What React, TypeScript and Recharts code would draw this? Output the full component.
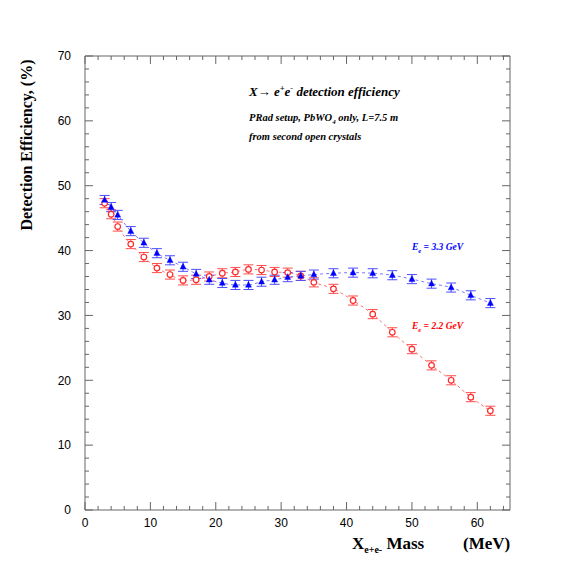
import React from 'react';
import { ComposedChart, Line, XAxis, YAxis, ErrorBar, ReferenceLine } from 'recharts';

const masses = [3, 4, 5, 7, 9, 11, 13, 15, 17, 19, 21, 23, 25, 27, 29, 31, 33, 35, 38, 41, 44, 47, 50, 53, 56, 59, 62];
const eff33 = [47.8, 46.7, 45.5, 43.0, 41.2, 39.6, 38.5, 37.5, 36.4, 35.5, 35.0, 34.7, 34.7, 35.2, 35.5, 35.9, 36.1, 36.3, 36.5, 36.6, 36.5, 36.2, 35.6, 34.9, 34.3, 33.1, 31.9];
const err33 = [0.7, 0.7, 0.7, 0.7, 0.7, 0.7, 0.7, 0.7, 0.7, 0.7, 0.7, 0.7, 0.7, 0.7, 0.7, 0.7, 0.7, 0.7, 0.7, 0.7, 0.7, 0.7, 0.7, 0.7, 0.7, 0.7, 0.7];
const eff22 = [47.3, 45.6, 43.7, 41.0, 39.0, 37.3, 36.3, 35.4, 35.5, 36.0, 36.5, 36.7, 37.1, 37.0, 36.7, 36.6, 36.1, 35.1, 34.1, 32.3, 30.2, 27.4, 24.8, 22.3, 20.0, 17.4, 15.3];
const err22 = [0.7, 0.7, 0.7, 0.7, 0.7, 0.7, 0.7, 0.7, 0.7, 0.7, 0.7, 0.7, 0.7, 0.7, 0.7, 0.7, 0.7, 0.7, 0.7, 0.7, 0.7, 0.7, 0.7, 0.7, 0.7, 0.7, 0.7];

const X_MIN = 0;
const X_MAX = 65;
const Y_MIN = 0;
const Y_MAX = 70;
const xMajorTicks = [0, 10, 20, 30, 40, 50, 60];
const xMinorTicks = [2, 4, 6, 8, 12, 14, 16, 18, 22, 24, 26, 28, 32, 34, 36, 38, 42, 44, 46, 48, 52, 54, 56, 58, 62, 64];
const yMajorTicks = [0, 10, 20, 30, 40, 50, 60, 70];
const yMinorTicks = [2, 4, 6, 8, 12, 14, 16, 18, 22, 24, 26, 28, 32, 34, 36, 38, 42, 44, 46, 48, 52, 54, 56, 58, 62, 64, 66, 68];

// tick lengths expressed in data units (major ~8px, minor ~4px)
const X_TICK_MAJ = 1.22;
const X_TICK_MIN = 0.61;
const Y_TICK_MAJ = 1.23;
const Y_TICK_MIN = 0.62;

const data = masses.map((m, i) => ({
  m,
  blue: eff33[i],
  blueErr: err33[i],
  red: eff22[i],
  redErr: err22[i],
}));

const FRAME = '#666666';
const SERIF = '"Liberation Serif", "DejaVu Serif", serif';
const SANS = '"Liberation Sans", Arial, sans-serif';

const Triangle = (props: any) => {
  const { cx, cy, index } = props;
  if (cx == null || cy == null) return <g key={`bt-${index}`} />;
  return (
    <path
      key={`bt-${index}`}
      d={`M${cx},${cy - 3.5} L${cx + 3},${cy + 2.3} L${cx - 3},${cy + 2.3} Z`}
      fill="#0000ff"
      stroke="#0000ff"
      strokeWidth={0.4}
    />
  );
};

const OpenCircle = (props: any) => {
  const { cx, cy, index } = props;
  if (cx == null || cy == null) return <g key={`rc-${index}`} />;
  return <circle key={`rc-${index}`} cx={cx} cy={cy} r={2.8} fill="#ffffff" stroke="#ff2a2a" strokeWidth={1.2} />;
};

const tickLines = () => {
  const out: React.ReactNode[] = [];
  const add = (key: string, seg: { x: number; y: number }[]) =>
    out.push(
      <ReferenceLine key={key} xAxisId="x" yAxisId="y" segment={seg} stroke={FRAME} strokeWidth={1} ifOverflow="visible" />
    );
  xMajorTicks.forEach((t) => {
    add(`xb${t}`, [{ x: t, y: Y_MIN }, { x: t, y: Y_MIN + Y_TICK_MAJ }]);
    add(`xt${t}`, [{ x: t, y: Y_MAX }, { x: t, y: Y_MAX - Y_TICK_MAJ }]);
  });
  xMinorTicks.forEach((t) => {
    add(`xbm${t}`, [{ x: t, y: Y_MIN }, { x: t, y: Y_MIN + Y_TICK_MIN }]);
    add(`xtm${t}`, [{ x: t, y: Y_MAX }, { x: t, y: Y_MAX - Y_TICK_MIN }]);
  });
  yMajorTicks.forEach((t) => {
    add(`yl${t}`, [{ x: X_MIN, y: t }, { x: X_MIN + X_TICK_MAJ, y: t }]);
    add(`yr${t}`, [{ x: X_MAX, y: t }, { x: X_MAX - X_TICK_MAJ, y: t }]);
  });
  yMinorTicks.forEach((t) => {
    add(`ylm${t}`, [{ x: X_MIN, y: t }, { x: X_MIN + X_TICK_MIN, y: t }]);
    add(`yrm${t}`, [{ x: X_MAX, y: t }, { x: X_MAX - X_TICK_MIN, y: t }]);
  });
  return out;
};

export default function App() {
  return (
    <div style={{ position: 'absolute', left: 0, top: 0, width: 567, height: 567, background: '#ffffff' }}>
      <ComposedChart
        width={567}
        height={567}
        data={data}
        margin={{ top: 56, right: 57, bottom: 27, left: 25 }}
      >
        <XAxis
          xAxisId="x"
          dataKey="m"
          type="number"
          domain={[X_MIN, X_MAX]}
          allowDataOverflow
          ticks={xMajorTicks}
          tickLine={false}
          tickSize={6}
          tickMargin={2}
          height={30}
          axisLine={{ stroke: FRAME, strokeWidth: 1 }}
          tick={{ fill: '#000', fontSize: 12, fontFamily: SANS }}
        />
        <YAxis
          yAxisId="y"
          type="number"
          domain={[Y_MIN, Y_MAX]}
          allowDataOverflow
          ticks={yMajorTicks}
          tickLine={false}
          tickSize={8}
          tickMargin={6}
          width={60}
          axisLine={{ stroke: FRAME, strokeWidth: 1 }}
          tick={{ fill: '#000', fontSize: 12, fontFamily: SANS }}
        />

        <ReferenceLine xAxisId="x" yAxisId="y" y={Y_MAX} stroke={FRAME} strokeWidth={1} ifOverflow="visible" />
        <ReferenceLine xAxisId="x" yAxisId="y" x={X_MAX} stroke={FRAME} strokeWidth={1} ifOverflow="visible" />
        {tickLines()}

        <Line
          xAxisId="x"
          yAxisId="y"
          dataKey="red"
          type="monotone"
          stroke="#ff7070"
          strokeWidth={1}
          strokeDasharray="3 3"
          dot={OpenCircle}
          activeDot={false}
          isAnimationActive={false}
        >
          <ErrorBar dataKey="redErr" direction="y" width={5} stroke="#ff4d4d" strokeWidth={1} />
        </Line>
        <Line
          xAxisId="x"
          yAxisId="y"
          dataKey="blue"
          type="monotone"
          stroke="#7878ff"
          strokeWidth={1}
          strokeDasharray="3 3"
          dot={Triangle}
          activeDot={false}
          isAnimationActive={false}
        >
          <ErrorBar dataKey="blueErr" direction="y" width={5} stroke="#4d4dff" strokeWidth={1} />
        </Line>
      </ComposedChart>

      <svg
        width={567}
        height={567}
        style={{ position: 'absolute', left: 0, top: 0, pointerEvents: 'none' }}
      >
        <text x={249} y={96} fontFamily={SERIF} fontStyle="italic" fontWeight="bold" fontSize={13} fill="#000">
          <tspan>X→ e</tspan>
          <tspan dy={-5} fontSize={8.5}>+</tspan>
          <tspan dy={5}>e</tspan>
          <tspan dy={-5} fontSize={8.5}>-</tspan>
          <tspan dy={5}> detection  efficiency</tspan>
        </text>
        <text x={249} y={121} fontFamily={SERIF} fontStyle="italic" fontWeight="bold" fontSize={10.5} fill="#000">
          <tspan>PRad setup, PbWO</tspan>
          <tspan dy={3} fontSize={7}>4</tspan>
          <tspan dy={-3}> only, L=7.5 m</tspan>
        </text>
        <text x={249} y={140} fontFamily={SERIF} fontStyle="italic" fontWeight="bold" fontSize={10.5} fill="#000">
          from second open crystals
        </text>

        <text x={412} y={250} fontFamily={SERIF} fontStyle="italic" fontWeight="bold" fontSize={9.5} fill="#0000ff">
          <tspan>E</tspan>
          <tspan dy={2.5} fontSize={6.5}>e</tspan>
          <tspan dy={-2.5}> = 3.3 GeV</tspan>
        </text>
        <text x={412} y={329} fontFamily={SERIF} fontStyle="italic" fontWeight="bold" fontSize={9.5} fill="#ff0000">
          <tspan>E</tspan>
          <tspan dy={2.5} fontSize={6.5}>e</tspan>
          <tspan dy={-2.5}> = 2.2 GeV</tspan>
        </text>

        <text
          x={0}
          y={0}
          transform="translate(32,145) rotate(-90)"
          textAnchor="middle"
          fontFamily={SERIF}
          fontWeight="bold"
          fontSize={16}
          fill="#000"
        >
          Detection Efficiency,  (%)
        </text>

        <text x={352} y={549} fontFamily={SERIF} fontWeight="bold" fontSize={17} fill="#000">
          <tspan>X</tspan>
          <tspan dy={4} fontSize={10}>e+e-</tspan>
          <tspan dy={-4}> Mass</tspan>
        </text>
        <text x={463} y={549} fontFamily={SERIF} fontWeight="bold" fontSize={17} fill="#000">
          (MeV)
        </text>
      </svg>
    </div>
  );
}
